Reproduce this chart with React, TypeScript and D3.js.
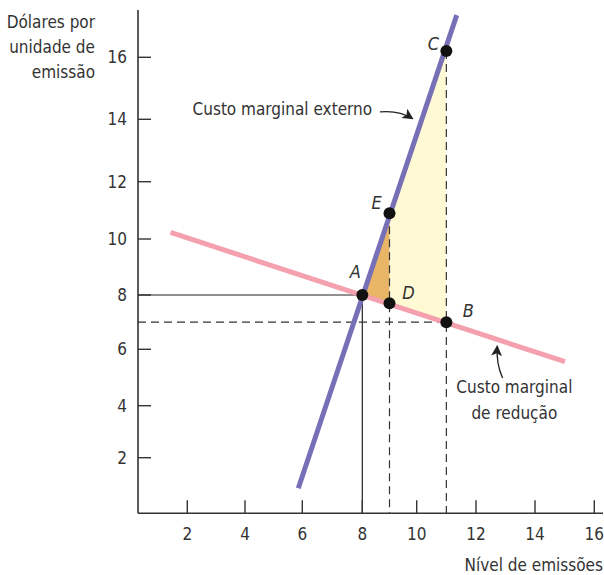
import React from 'react';
import * as d3 from 'd3';

// ---- data ----
const xTickValues = [2, 4, 6, 8, 10, 12, 14, 16];
const yTickValues = [2, 4, 6, 8, 10, 12, 14, 16];
const externalCostX = [5.86, 11.35];
const externalCostY = [0.9, 17.36];
const abatementCostX = [1.42, 15.01];
const abatementCostY = [10.23, 5.56];
const pointNames = ['A', 'D', 'B', 'E', 'C'];
const pointX = [8, 9, 11, 9, 11];
const pointY = [8, 7.7, 7, 10.9, 16.2];
const yAxisTitle = ['Dólares por', 'unidade de', 'emissão'];
const xAxisTitle = 'Nível de emissões';
const externalLabel = ['Custo marginal externo'];
const abatementLabel = ['Custo marginal', 'de redução'];

const FONT = '"Liberation Sans Narrow", "Arial Narrow", "DejaVu Sans Condensed", sans-serif';
const TXT = '#333';
const PURPLE = '#7770b7';
const PINK = '#f4a0ae';
const YELLOW = '#fffad3';
const ORANGE = '#e9b566';

export default function App() {
  const W = 604, H = 575;
  const left = 138, right = 603, top = 10, bottom = 513.3;

  // hand-drawn axes: piecewise linear scales through tick positions
  const x = d3.scaleLinear()
    .domain([2, 4, 6, 8, 10, 12, 14, 16])
    .range([187.3, 245, 302.3, 362.3, 416.7, 476, 535, 594.3]);
  const y = d3.scaleLinear()
    .domain([0, 2, 4, 6, 8, 10, 12, 14, 16])
    .range([bottom, 457.7, 405.7, 349.3, 295, 239, 181.7, 119.3, 57.3]);

  const xMin = x.invert(left);

  const line = d3.line<[number, number]>().x(d => x(d[0])).y(d => y(d[1]));
  const ext: [number, number][] = externalCostX.map((v, i) => [v, externalCostY[i]]);
  const aba: [number, number][] = abatementCostX.map((v, i) => [v, abatementCostY[i]]);
  const P: Record<string, [number, number]> = {};
  pointNames.forEach((n, i) => { P[n] = [pointX[i], pointY[i]]; });

  const poly = (names: string[]) => names.map(n => `${x(P[n][0])},${y(P[n][1])}`).join(' ');

  // label offsets (px) relative to points
  const labelOff: Record<string, [number, number]> = {
    A: [-7, -17], D: [19, -4], B: [22, -5], E: [-13, -4], C: [-13, -1],
  };

  const arrow1 = d3.path();
  arrow1.moveTo(x(8.65), y(14.24));
  arrow1.quadraticCurveTo(x(9.35), y(14.3), x(9.85), y(14.02));
  const arrow2 = d3.path();
  arrow2.moveTo(x(12.9), y(4.98));
  arrow2.quadraticCurveTo(x(12.68), y(5.5), x(12.72), y(6.12));

  return (
    <svg width={W} height={H} style={{ position: 'absolute', left: 0, top: 0 }} fontFamily={FONT}>
      <defs>
        <marker id="ah" viewBox="0 0 10 10" refX="9" refY="5" markerWidth="11" markerHeight="11"
          markerUnits="userSpaceOnUse" orient="auto">
          <path d="M0,0 L10,5 L0,10 L2.5,5 Z" fill="#222" />
        </marker>
      </defs>
      <rect width={W} height={H} fill="#fff" />

      {/* shaded areas */}
      <polygon points={poly(['E', 'C', 'B', 'D'])} fill={YELLOW} />
      <polygon points={poly(['A', 'E', 'D'])} fill={ORANGE} />

      {/* guides */}
      <line x1={left} x2={x(P.A[0])} y1={y(P.A[1])} y2={y(P.A[1])} stroke="#222" strokeWidth={1.2} />
      <line x1={x(P.A[0])} x2={x(P.A[0])} y1={y(P.A[1])} y2={bottom} stroke="#222" strokeWidth={1.2} />
      <line x1={left} x2={x(P.B[0])} y1={y(P.B[1])} y2={y(P.B[1])} stroke="#333" strokeWidth={1.2} strokeDasharray="8,5" />
      <line x1={x(P.E[0])} x2={x(P.E[0])} y1={y(P.E[1])} y2={bottom} stroke="#333" strokeWidth={1.2} strokeDasharray="8,5" />
      <line x1={x(P.C[0])} x2={x(P.C[0])} y1={y(P.C[1])} y2={bottom} stroke="#333" strokeWidth={1.2} strokeDasharray="8,5" />

      {/* curves */}
      <path d={line(aba) || ''} stroke={PINK} strokeWidth={5} fill="none" />
      <path d={line(ext) || ''} stroke={PURPLE} strokeWidth={5} fill="none" />

      {/* points */}
      {pointNames.map(n => (
        <g key={n}>
          <circle cx={x(P[n][0])} cy={y(P[n][1])} r={6} fill="#111" />
          <text x={x(P[n][0]) + labelOff[n][0]} y={y(P[n][1]) + labelOff[n][1]} fontSize={18}
            fontStyle="italic" textAnchor="middle" fill={TXT}>{n}</text>
        </g>
      ))}

      {/* axes */}
      <line x1={left} x2={left} y1={top} y2={bottom} stroke="#333" strokeWidth={1.6} />
      <line x1={left} x2={right} y1={bottom} y2={bottom} stroke="#333" strokeWidth={1.6} />
      {yTickValues.map(v => (
        <g key={'y' + v}>
          <line x1={left} x2={left + 13} y1={y(v)} y2={y(v)} stroke="#333" strokeWidth={1.4} />
          <text x={127} y={y(v)} dy="0.35em" textAnchor="end" fontSize={17} fill={TXT}>{v}</text>
        </g>
      ))}
      {xTickValues.map(v => (
        <g key={'x' + v}>
          <line x1={x(v)} x2={x(v)} y1={bottom} y2={bottom - 13} stroke="#333" strokeWidth={1.4} />
          <text x={x(v)} y={540} textAnchor="middle" fontSize={17} fill={TXT}>{v}</text>
        </g>
      ))}

      {/* titles */}
      {yAxisTitle.map((t, i) => (
        <text key={t} x={95} y={28 + i * 25} textAnchor="end" fontSize={17} fill={TXT}>{t}</text>
      ))}
      <text x={603} y={571} textAnchor="end" fontSize={17} fill={TXT}>{xAxisTitle}</text>

      {/* annotations */}
      {externalLabel.map((t, i) => (
        <text key={t} x={x(8.36)} y={y(14.14) + i * 25} textAnchor="end" fontSize={17} fill={TXT}>{t}</text>
      ))}
      <path d={arrow1.toString()} stroke="#222" strokeWidth={1.3} fill="none" markerEnd="url(#ah)" />
      {abatementLabel.map((t, i) => (
        <text key={t} x={x(13.3)} y={y(4.45) + i * 26} textAnchor="middle" fontSize={17} fill={TXT}>{t}</text>
      ))}
      <path d={arrow2.toString()} stroke="#222" strokeWidth={1.3} fill="none" markerEnd="url(#ah)" />
    </svg>
  );
}
